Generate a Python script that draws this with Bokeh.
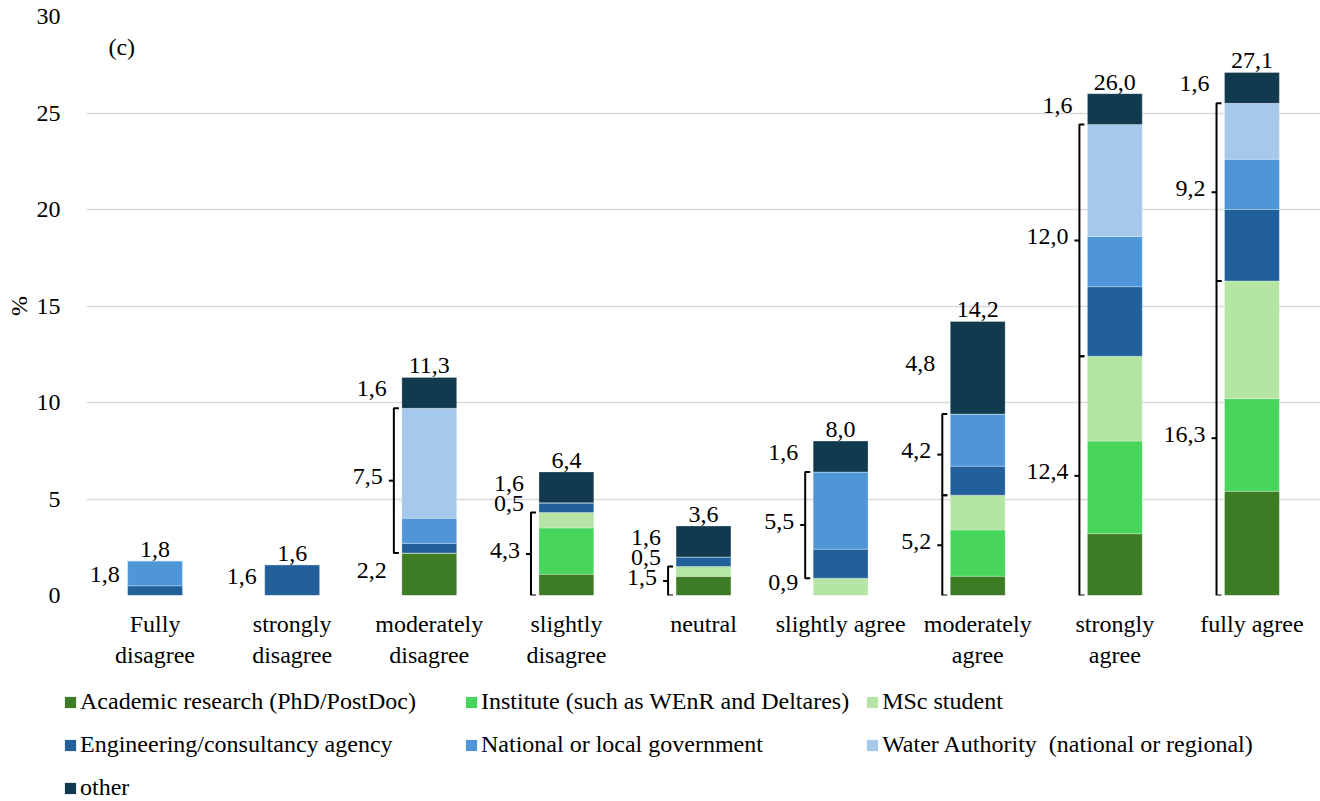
from bokeh.plotting import figure
from bokeh.layouts import column
from bokeh.models import ColumnDataSource, FixedTicker, Legend, LegendItem, Range1d, Label
from bokeh.core.properties import value
from bokeh.embed import file_html
from bokeh.resources import INLINE

# ---------------- data ----------------
categories = ["Fully\ndisagree", "strongly\ndisagree", "moderately\ndisagree",
              "slightly\ndisagree", "neutral", "slightly agree",
              "moderately\nagree", "strongly\nagree", "fully agree"]

series_names = ["Academic research (PhD/PostDoc)",
                "Institute (such as WEnR and Deltares)",
                "MSc student",
                "Engineering/consultancy agency",
                "National or local government",
                "Water Authority  (national or regional)",
                "other"]

academic    = [0.0, 0.0, 2.2, 1.1, 1.0, 0.0, 1.0, 3.2, 5.4]
institute   = [0.0, 0.0, 0.0, 2.4, 0.0, 0.0, 2.4, 4.8, 4.8]
msc         = [0.0, 0.0, 0.0, 0.8, 0.5, 0.9, 1.8, 4.4, 6.1]
engineering = [0.5, 1.6, 0.5, 0.5, 0.5, 1.5, 1.5, 3.6, 3.7]
national    = [1.3, 0.0, 1.3, 0.0, 0.0, 4.0, 2.7, 2.6, 2.6]
water       = [0.0, 0.0, 5.7, 0.0, 0.0, 0.0, 0.0, 5.8, 2.9]
other       = [0.0, 0.0, 1.6, 1.6, 1.6, 1.6, 4.8, 1.6, 1.6]

y_ticks = [0, 5, 10, 15, 20, 25, 30]

# grouped side annotations: (category index, first series, last series, bracket?)
groups = [
    (0, 3, 4, False), (1, 3, 3, False),
    (2, 0, 0, False), (2, 3, 5, True), (2, 6, 6, False),
    (3, 0, 2, True), (3, 3, 3, False), (3, 6, 6, False),
    (4, 0, 2, True), (4, 3, 3, False), (4, 6, 6, False),
    (5, 0, 2, False), (5, 3, 4, True), (5, 6, 6, False),
    (6, 0, 2, True), (6, 3, 5, True), (6, 6, 6, False),
    (7, 0, 2, True), (7, 3, 5, True), (7, 6, 6, False),
    (8, 0, 2, True), (8, 3, 5, True), (8, 6, 6, False),
]

# ---------------- style ----------------
colors = ["#3d7b25", "#47d55c", "#b5e5a4", "#22609c", "#4f96d9", "#a6c9eb", "#113a4f"]
FONT = "Liberation Serif"
FS = "24px"
BAR_W = 0.4
PX = 137.1  # pixels per category unit (for small offsets)

series = [academic, institute, msc, engineering, national, water, other]
n = len(categories)
xs = list(range(n))

p = figure(width=1320, height=680, output_backend="svg", toolbar_location=None,
           x_range=Range1d(-0.5, n - 0.5), y_range=Range1d(0, 30),
           min_border_left=86, min_border_right=0, min_border_top=16,
           min_border_bottom=85)
p.frame_align = False
p.outline_line_color = None
p.xgrid.grid_line_color = None
p.ygrid.grid_line_color = "#d9d9d9"
p.ygrid.grid_line_width = 1.5
p.ygrid.ticker = FixedTicker(ticks=y_ticks)

# stacked bars
cum = [0.0] * n
bottoms_all, tops_all, sources = [], [], []
for vals, col in zip(series, colors):
    bottoms = cum[:]
    tops = [b + v for b, v in zip(bottoms, vals)]
    bottoms_all.append(bottoms)
    tops_all.append(tops)
    src = ColumnDataSource(dict(x=xs, bottom=bottoms, top=tops, v=vals))
    sources.append(src)
    p.vbar(x="x", bottom="bottom", top="top", width=BAR_W, source=src,
           fill_color=col, line_color="white", line_width=0.6, line_alpha=0.45)
    cum = tops

totals = cum

def fmt(v):
    return f"{v:.1f}".replace(".", ",")

# total labels
p.text(x=xs, y=totals, text=[fmt(t) for t in totals], text_font=value(FONT),
       text_font_size=FS, text_align="center", text_baseline="bottom", y_offset=-4,
       text_color="black")

# side labels + brackets
lx, ly, lt, loff = [], [], [], []
bx, by = [], []
gap = 8 / PX
tick = 5 / PX
for ci, s0, s1, br in groups:
    y0 = bottoms_all[s0][ci]
    y1 = tops_all[s1][ci]
    total = sum(series[k][ci] for k in range(s0, s1 + 1))
    ym = (y0 + y1) / 2
    left = ci - BAR_W / 2
    lx.append(left)
    ly.append(ym)
    lt.append(fmt(total))
    if br:
        loff.append(-19)
        xb = left - gap
        bx.append([xb + tick, xb, xb, xb + tick])
        by.append([y0, y0, y1, y1])
        bx.append([xb, xb - tick])
        by.append([ym, ym])
    else:
        loff.append(-8 if ci < 2 else -15)

p.multi_line(xs=bx, ys=by, line_color="black", line_width=2)
p.text(x=lx, y=ly, text=lt, x_offset=loff, y_offset=-4, text_font=value(FONT),
       text_font_size=FS, text_align="right", text_baseline="middle", text_color="black")

p.add_layout(Label(x=-0.34, y=28.4, text="(c)", text_font=FONT, text_font_size="24px",
                   text_baseline="middle", text_align="left", text_color="black"))

# axes
p.xaxis.ticker = FixedTicker(ticks=xs)
p.xaxis.major_label_overrides = {i: c for i, c in enumerate(categories)}
p.xaxis.axis_line_color = None
p.xaxis.major_tick_line_color = None
p.xaxis.minor_tick_line_color = None
p.xaxis.major_label_standoff = 9
p.xaxis.major_label_text_font = FONT
p.xaxis.major_label_text_font_size = FS
p.xaxis.major_label_text_color = "black"

p.yaxis.ticker = FixedTicker(ticks=y_ticks)
p.yaxis.axis_line_color = None
p.yaxis.major_tick_line_color = None
p.yaxis.minor_tick_line_color = None
p.yaxis.major_label_standoff = 20
p.yaxis.major_label_text_font = FONT
p.yaxis.major_label_text_font_size = FS
p.yaxis.major_label_text_color = "black"
p.yaxis.axis_label = "%"
p.yaxis.axis_label_text_font = FONT
p.yaxis.axis_label_text_font_size = FS
p.yaxis.axis_label_text_font_style = "normal"
p.yaxis.axis_label_text_color = "black"
p.yaxis.axis_label_standoff = 2

# legend strip below the chart (same bar sources, drawn outside its visible range)
q = figure(width=1320, height=121, output_backend="svg", toolbar_location=None,
           x_range=Range1d(-0.5, n - 0.5), y_range=Range1d(100, 101),
           x_axis_location=None, y_axis_location=None,
           min_border_left=0, min_border_right=0, min_border_top=0, min_border_bottom=0)
q.frame_align = False
q.outline_line_color = None
q.grid.visible = False
items = []
for nm, col, src in zip(series_names, colors, sources):
    r = q.vbar(x="x", bottom="bottom", top="top", width=BAR_W, source=src,
               fill_color=col, line_color=None)
    items.append(LegendItem(label=nm, renderers=[r]))
legend = Legend(items=items, location=(63, 0), orientation="horizontal", ncols=3,
                label_text_font=FONT, label_text_font_size=FS, label_text_color="black",
                glyph_width=14, glyph_height=14, label_standoff=3, label_height=26,
                label_width=368, spacing=16, padding=0, margin=0,
                border_line_color=None, background_fill_alpha=0)
q.add_layout(legend, "center")

layout = column(p, q, spacing=0)
open("out.html", "w").write(file_html(layout, INLINE))
